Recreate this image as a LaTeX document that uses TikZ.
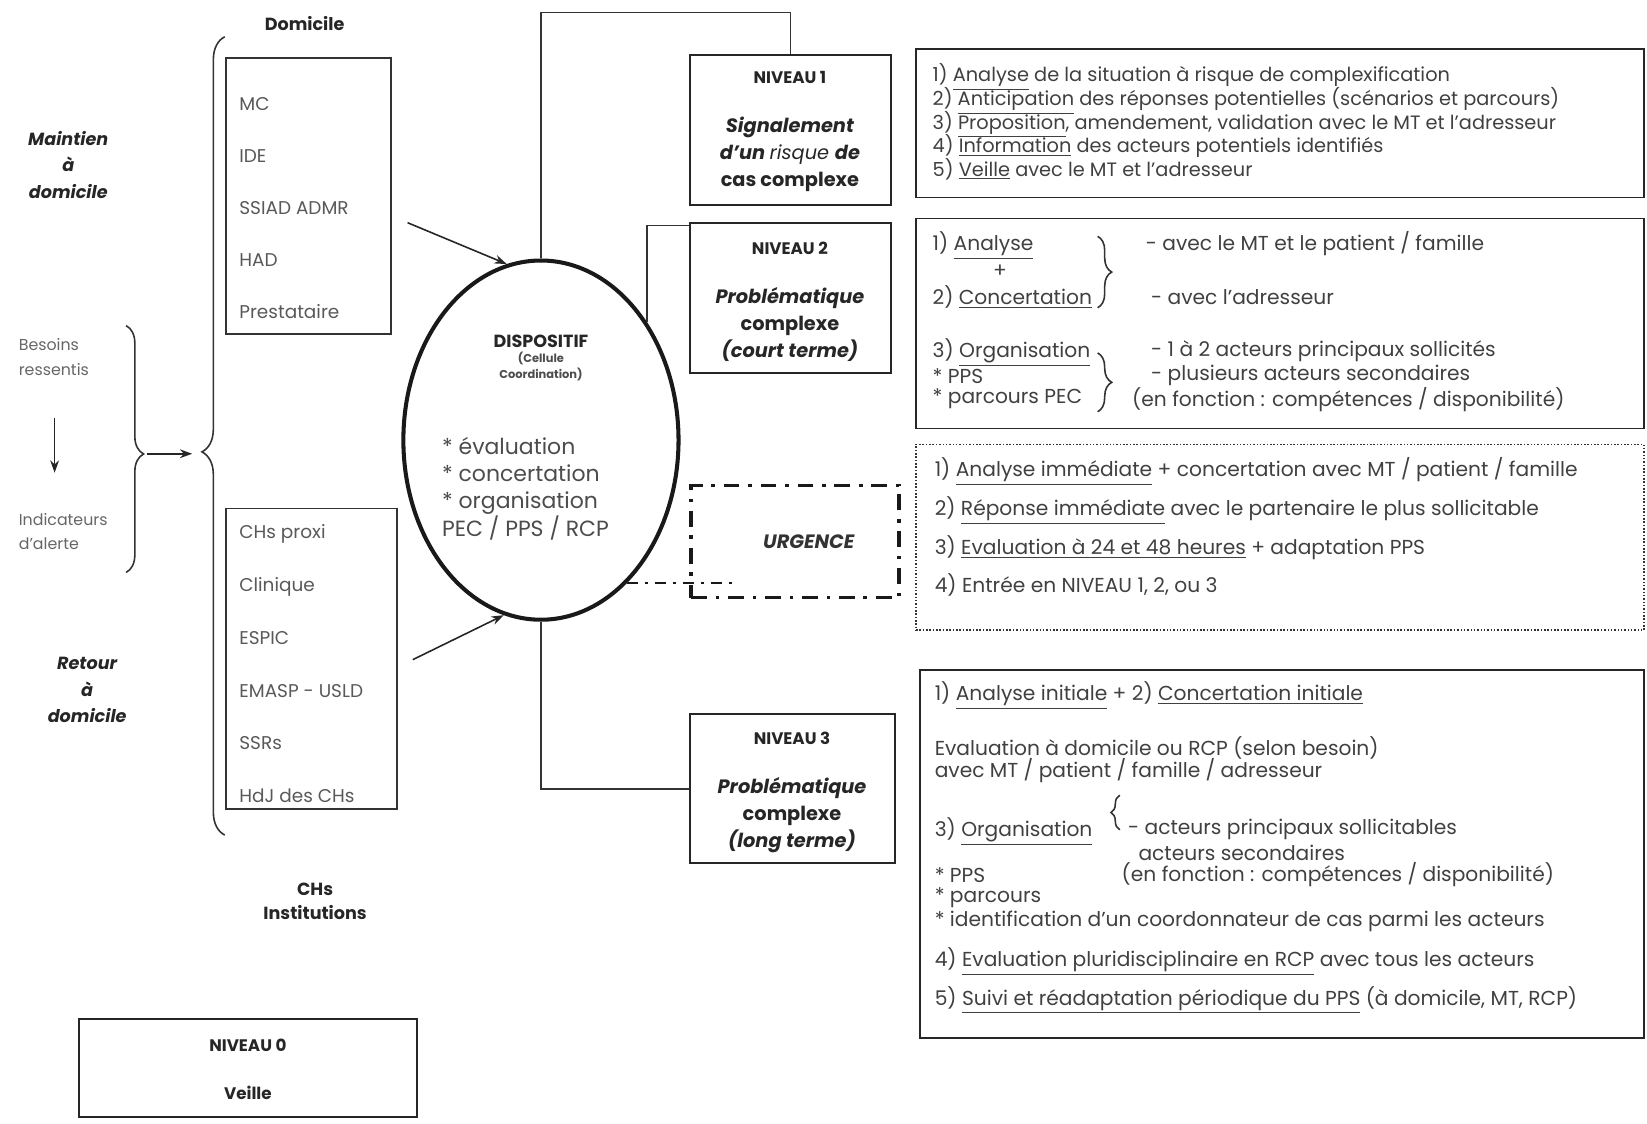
\documentclass[tikz,border=0pt]{standalone}
\usepackage{fontspec}
\setmainfont{Poppins}
\usetikzlibrary{arrows.meta, positioning, shapes.geometric, fit, decorations.pathreplacing}

\begin{document}
\lineskiplimit=-20pt
\begin{tikzpicture}[x=0.021cm, y=-0.021cm, font=\fontsize{11.5}{13.3}\selectfont, text=black!75]

% Styles
        \tikzstyle{listbox}=[rectangle, draw=black!80, line width=0.9pt, inner sep=0pt]
        \tikzstyle{levelbox}=[rectangle, draw=black!85, line width=1.2pt, inner sep=0pt]
        \tikzstyle{infobox}=[rectangle, draw=black!85, line width=1pt, inner sep=0pt]
        \tikzstyle{urgbox}=[rectangle, draw=black!90, line width=2pt, inner sep=0pt, dash pattern=on 9pt off 5pt on 2pt off 5pt]
        \tikzstyle{dotbox}=[rectangle, draw=black!80, line width=0.9pt, inner sep=0pt, densely dotted]
        \tikzstyle{heading}=[font=\fontsize{10}{15}\selectfont\bfseries\itshape, align=center, text=black!85]
        \tikzstyle{levelhead}=[font=\fontsize{9.5}{12}\selectfont\bfseries, text=black!85]
        \tikzstyle{leveltxt}=[font=\fontsize{11}{15.5}\selectfont\bfseries, align=center, text=black!85]
        \tikzstyle{listtxt}=[anchor=west, align=left, font=\fontsize{10.5}{29.5}\selectfont, text=black!65]
        \tikzstyle{line}=[anchor=west]
        \tikzstyle{link}=[draw=black!80, line width=0.9pt]
        \tikzstyle{arrow}=[-{Stealth[length=7pt, width=5pt]}, line width=0.9pt, draw=black!85]
        \tikzstyle{curly}=[decorate, line width=0.9pt, draw=black!80]
        \tikzstyle{dashdot}=[draw=black!90, line width=1.6pt, dash pattern=on 6pt off 4pt on 2pt off 4pt]

        \useasboundingbox (0,0) rectangle (1568,1070);

% Nodes
% Left column
        \node[font=\fontsize{10}{12}\selectfont\bfseries, text=black!85] (domtitle) at (290,22) {Domicile};
        \node[heading] (maintien) at (65,157) {Maintien\\à\\domicile};
        \node[anchor=west, align=left, font=\fontsize{9}{14}\selectfont, text=black!60] (besoins) at (12,340) {Besoins\\ressentis};
        \node[anchor=west, align=left, font=\fontsize{9}{14}\selectfont, text=black!60] (indic) at (12,506) {Indicateurs\\d'alerte};
        \node[heading] (retour) at (83,657) {Retour\\à\\domicile};
        \node[font=\fontsize{10}{14}\selectfont\bfseries, align=center, text=black!85] (chs) at (300,858) {CHs\\Institutions};

% Actor lists
        \node[listbox, fit={(215,55) (372,318)}] (dom) {};
        \node[listtxt] (domlist) at (222,198) {MC\\IDE\\SSIAD ADMR\\HAD\\Prestataire};
        \node[listbox, fit={(215,484) (378,770)}] (inst) {};
        \node[listtxt, font=\fontsize{10.5}{30}\selectfont] (instlist) at (222,632) {CHs proxi\\Clinique\\ESPIC\\EMASP - USLD\\SSRs\\HdJ des CHs};

% Niveau 0
        \node[levelbox, fit={(75,970) (397,1063)}] (n0) {};
        \node[levelhead] (n0head) at (236,995) {NIVEAU 0};
        \node[levelhead] (n0txt) at (236,1040) {Veille};

% Dispositif
        \node[ellipse, draw=black!90, line width=2.3pt, minimum width=5.5cm, minimum height=7.18cm, inner sep=0pt] (disp) at (515,419) {};
        \node[font=\fontsize{10}{12}\selectfont\bfseries, text=black!85] (disptitle) at (515,325) {DISPOSITIF};
        \node[font=\fontsize{6.5}{9}\selectfont\bfseries, align=center, text=black!70] (cellule) at (515,349) {(Cellule\\Coordination)};
        \node[anchor=west, align=left, font=\fontsize{12.5}{15.6}\selectfont, text=black!70] (dispact) at (415,465) {* évaluation\\* concertation\\* organisation\\PEC / PPS / RCP};

% Niveaux
        \node[levelbox, fit={(657,52) (848,195)}] (n1) {};
        \node[levelhead] (n1head) at (752,74) {NIVEAU 1};
        \node[leveltxt] (n1txt) at (752,147) {{\itshape Signalement}\\{\itshape d'un \mdseries risque \bfseries de}\\cas complexe};
        \node[levelbox, fit={(657,212) (848,355)}] (n2) {};
        \node[levelhead] (n2head) at (752,236) {NIVEAU 2};
        \node[leveltxt] (n2txt) at (752,309) {{\itshape Problématique}\\complexe\\{\itshape (court terme)}};
        \node[urgbox, fit={(658,462) (856,569)}] (urg) {};
        \node[font=\fontsize{11}{13}\selectfont\bfseries\itshape, text=black!80] (urgtxt) at (770,516) {URGENCE};
        \node[levelbox, fit={(657,680) (852,822)}] (n3) {};
        \node[levelhead] (n3head) at (754,703) {NIVEAU 3};
        \node[leveltxt] (n3txt) at (754,776) {{\itshape Problématique}\\complexe\\{\itshape (long terme)}};

% Niveau 1 actions
        \node[infobox, fit={(872,47) (1565,188)}] (t1) {};
        \node[anchor=west, align=left, font=\fontsize{11}{13.4}\selectfont] (t1txt) at (882,116) {1) \underline{Analyse} de la situation à risque de complexification\\2) \underline{Anticipation} des réponses potentielles (scénarios et parcours)\\3) \underline{Proposition}, amendement, validation avec le MT et l'adresseur\\4) \underline{Information} des acteurs potentiels identifiés\\5) \underline{Veille} avec le MT et l'adresseur};

% Niveau 2 actions
        \node[infobox, fit={(872,208) (1565,408)}] (t2) {};
        \node[line] (t2a) at (882,234) {1) \underline{Analyse}};
        \node (t2plus) at (952,258) {+};
        \node[line] (t2b) at (882,283) {2) \underline{Concertation}};
        \node[line] (t2c) at (882,336) {3) \underline{Organisation}};
        \node[line] (t2d) at (882,358) {* PPS};
        \node[line] (t2e) at (882,380) {* parcours PEC};
        \node[line] (t2f) at (1085,232) {- avec le MT et le patient / famille};
        \node[line] (t2g) at (1090,283) {- avec l'adresseur};
        \node[line] (t2h) at (1090,334) {- 1 à 2 acteurs principaux sollicités};
        \node[line] (t2i) at (1090,357) {- plusieurs acteurs secondaires};
        \node[line] (t2j) at (1072,380) {(en fonction : compétences / disponibilité)};

% Urgence actions
        \node[dotbox, fit={(872,423) (1565,600)}] (t3) {};
        \node[anchor=west, align=left, font=\fontsize{11.5}{22}\selectfont] (t3txt) at (884,502) {1) \underline{Analyse immédiate} + concertation avec MT / patient / famille\\2) \underline{Réponse immédiate} avec le partenaire le plus sollicitable\\3) \underline{Evaluation à 24 et 48 heures} + adaptation PPS\\4) Entrée en NIVEAU 1, 2, ou 3};

% Niveau 3 actions
        \node[infobox, fit={(876,638) (1565,988)}] (t4) {};
        \node[line] (t4a) at (884,662) {1) \underline{Analyse initiale} + 2) \underline{Concertation initiale}};
        \node[line] (t4b) at (884,712) {Evaluation à domicile ou RCP (selon besoin)};
        \node[line] (t4c) at (884,734) {avec MT / patient / famille / adresseur};
        \node[line] (t4d) at (884,792) {3) \underline{Organisation}};
        \node[line] (t4e) at (1068,790) {- acteurs principaux sollicitables};
        \node[line] (t4f) at (1078,812) {acteurs secondaires};
        \node[line] (t4g) at (884,833) {* PPS};
        \node[line] (t4h) at (1062,833) {(en fonction : compétences / disponibilité)};
        \node[line] (t4i) at (884,855) {* parcours};
        \node[line] (t4j) at (884,877) {* identification d'un coordonnateur de cas parmi les acteurs};
        \node[line] (t4k) at (884,915) {4) \underline{Evaluation pluridisciplinaire en RCP} avec tous les acteurs};
        \node[line] (t4l) at (884,952) {5) \underline{Suivi et réadaptation périodique du PPS} (à domicile, MT, RCP)};

% Connections
% Braces
        \draw[curly, decoration={brace, amplitude=10pt, aspect=0.52}] (120,310) -- (120,545);
        \draw[curly, decoration={brace, amplitude=13pt, aspect=0.48}] (214,795) -- (214,35);
        \draw[curly, decoration={brace, amplitude=8pt}] (1045,225) -- (1045,293);
        \draw[curly, decoration={brace, amplitude=8pt}] (1045,336) -- (1045,392);
        \draw[curly, decoration={brace, amplitude=5pt}] (1066,790) -- (1066,757);

% Arrows
        \coordinate (smalltip) at (140,432);
        \coordinate (bigtip) at (183,432);
        \draw[arrow] (smalltip) -- (bigtip);
        \coordinate (downfrom) at (52,398);
        \coordinate (downto) at (52,450);
        \draw[arrow] (downfrom) -- (downto);
        \coordinate (domout) at (388,212);
        \coordinate (instout) at (393,628);
        \draw[arrow] (domout) -- (disp.101);
        \draw[arrow] (instout) -- (disp.258);

% Level links
        \draw[link] (disp.north) -- ++(0,-234) -| (n1.north);
        \draw[link] ([yshift=-0.08cm]n2.north west) -| (disp.48);
        \draw[link] (disp.south) |- (n3.west);
        \coordinate (urgfrom) at (597,555);
        \coordinate (urgto) at (697,555);
        \draw[dashdot] (urgfrom) -- (urgto);

    \end{tikzpicture}
\end{document}
